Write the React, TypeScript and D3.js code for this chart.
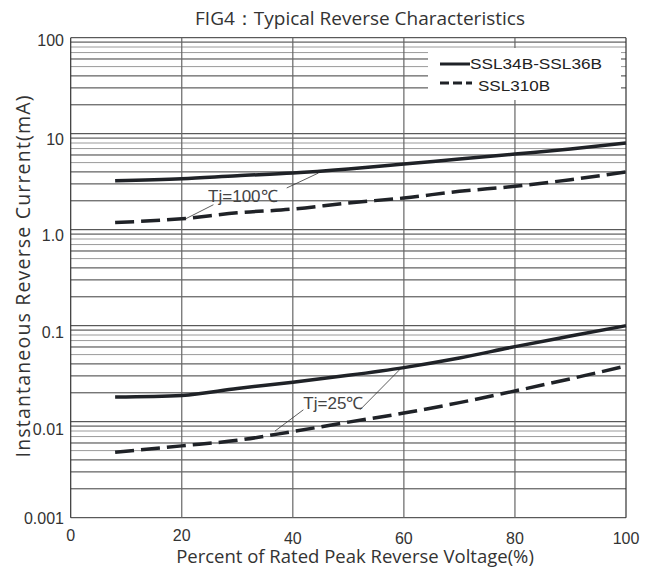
import React from 'react';
import * as d3 from 'd3';

const percents = [8, 20, 30, 40, 50, 60, 70, 80, 90, 100];
const solid100 = [3.24, 3.4, 3.65, 3.89, 4.29, 4.83, 5.45, 6.14, 6.92, 7.98];
const dashed100 = [1.19, 1.3, 1.5, 1.64, 1.9, 2.14, 2.51, 2.83, 3.32, 3.99];
const solid25 = [0.0181, 0.0188, 0.0222, 0.0258, 0.0304, 0.0366, 0.046, 0.0605, 0.078, 0.1];
const dashed25 = [0.0048, 0.0056, 0.0064, 0.0079, 0.0099, 0.0123, 0.0158, 0.0209, 0.028, 0.038];

const xTicks = [0, 20, 40, 60, 80, 100];
const yTicks = [100, 10, 1, 0.1, 0.01, 0.001];
const yTickLabels = ['100', '10', '1.0', '0.1', '0.01', '0.001'];
const seriesNames = ['SSL34B-SSL36B', 'SSL310B'];

// annotation text + leader lines, in data coords [percent, mA]
const annotations = [
  { text: 'Tj=100℃', at: [31, 2.26], leaders: [[[20.6, 1.29], [25.7, 1.82]], [[38.9, 2.72], [44.6, 3.89]]] },
  { text: 'Tj=25℃', at: [47.3, 0.0157], leaders: [[[36.8, 0.008], [41.9, 0.0133]], [[52.1, 0.0133], [59.3, 0.0351]]] },
];

const W = 648;
const H = 570;
const margin = { top: 37.7, right: 22, bottom: 52.3, left: 70.7 };

export default function App() {
  const x = d3.scaleLinear().domain([0, 100]).range([margin.left, W - margin.right]);
  const y = d3.scaleLog().domain([0.001, 100]).range([H - margin.bottom, margin.top]);

  const line = d3
    .line<[number, number]>()
    .x(d => x(d[0]))
    .y(d => y(d[1]))
    .curve(d3.curveMonotoneX);

  const zip = (vals: number[]) => percents.map((p, i) => [p, vals[i]] as [number, number]);

  // minor grid colour pattern (scan looks mixed dark/grey)
  const gridColor = (m: number) => ([5, 7, 8].includes(m) ? '#9a9a9a' : '#3c3c3c');
  const hLines: { v: number; c: string }[] = [];
  [0.001, 0.01, 0.1, 1, 10].forEach(dec => {
    for (let m = 1; m <= 9; m++) hLines.push({ v: dec * m, c: m === 1 ? '#333' : gridColor(m) });
  });
  hLines.push({ v: 100, c: '#333' });

  const legend = { x0: 428, x1: 621, y0: 48, y1: 100 };
  const axisFont = '"Liberation Sans", Arial, sans-serif';
  const titleFont = '"Open Sans", "Noto Sans", sans-serif';
  const lineColor = '#1f2227';
  const yLabelDy = [8.5, 11.5, 11.5, 12, 13, 6];

  return (
    <svg width={W} height={H} style={{ position: 'absolute', left: 0, top: 0, background: '#fff' }}>
      <rect width={W} height={H} fill="#fff" />
      <text x={360} y={25} textAnchor="middle" fontFamily={titleFont} fontSize={19} fill="#333">
        FIG4：Typical Reverse Characteristics
      </text>

      {hLines.map((g, i) => (
        <line key={'h' + i} x1={x(0)} x2={x(100)} y1={y(g.v)} y2={y(g.v)} stroke={g.c} strokeWidth={1} />
      ))}
      {xTicks.map(t => (
        <line key={'v' + t} x1={x(t)} x2={x(t)} y1={y(100)} y2={y(0.001)} stroke={t === 0 || t === 100 ? '#333' : '#666'} strokeWidth={1.2} />
      ))}

      {/* legend box */}
      <rect x={legend.x0} y={legend.y0} width={legend.x1 - legend.x0} height={legend.y1 - legend.y0} fill="#fff" />
      <line x1={440} x2={470} y1={64} y2={64} stroke={lineColor} strokeWidth={3} />
      <text x={470} y={68.5} fontFamily={axisFont} fontSize={15} fill="#222" textLength={132} lengthAdjust="spacingAndGlyphs">
        {seriesNames[0]}
      </text>
      <line x1={440} x2={472} y1={83} y2={83} stroke={lineColor} strokeWidth={3} strokeDasharray="9 4" />
      <text x={478} y={90.5} fontFamily={axisFont} fontSize={15} fill="#222" textLength={72} lengthAdjust="spacingAndGlyphs">
        {seriesNames[1]}
      </text>

      {/* curves */}
      <path d={line(zip(solid100)) || ''} fill="none" stroke={lineColor} strokeWidth={3.5} />
      <path d={line(zip(dashed100)) || ''} fill="none" stroke={lineColor} strokeWidth={3.5} strokeDasharray="19 7" />
      <path d={line(zip(solid25)) || ''} fill="none" stroke={lineColor} strokeWidth={3.5} />
      <path d={line(zip(dashed25)) || ''} fill="none" stroke={lineColor} strokeWidth={3.5} strokeDasharray="19 7" />

      {/* annotations */}
      {annotations.map(a => (
        <g key={a.text}>
          {a.leaders.map((l, i) => (
            <line key={i} x1={x(l[0][0])} y1={y(l[0][1])} x2={x(l[1][0])} y2={y(l[1][1])} stroke="#333" strokeWidth={0.8} />
          ))}
          <text x={x(a.at[0])} y={y(a.at[1])} dy="0.35em" textAnchor="middle" fontFamily={axisFont} fontSize={17} fill="#444">
            {a.text}
          </text>
        </g>
      ))}

      {/* y tick labels */}
      {yTicks.map((t, i) => (
        <text key={'yt' + t} x={64} y={y(t)} dy={yLabelDy[i]} textAnchor="end" fontFamily={axisFont} fontSize={16} fill="#333">
          {yTickLabels[i]}
        </text>
      ))}
      {/* x tick labels */}
      {xTicks.map((t, i) => (
        <text key={'xt' + t} x={x(t)} y={y(0.001)} dy={i < 2 ? 23.5 : 26.5} textAnchor="middle" fontFamily={axisFont} fontSize={16} fill="#333">
          {t}
        </text>
      ))}

      <text x={355} y={563} textAnchor="middle" fontFamily={titleFont} fontSize={18.5} fill="#333">
        Percent of Rated Peak Reverse Voltage(%)
      </text>
      <text
        transform={`translate(30, 276.5) rotate(-90)`}
        textAnchor="middle"
        fontFamily={titleFont}
        fontSize={19.5}
        fill="#333"
        textLength={362}
        lengthAdjust="spacing"
      >
        Instantaneous Reverse Current(mA)
      </text>
    </svg>
  );
}
